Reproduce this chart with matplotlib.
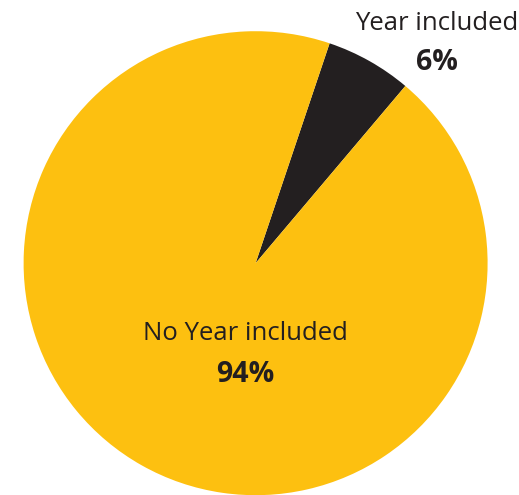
import matplotlib.pyplot as plt

labels = ['Year included', 'No Year included']
shares = [6, 94]
colors = ['#231f20', '#fdc010']

W, H = 519, 495

fig = plt.figure(figsize=(W / 100, H / 100), dpi=100)
ax = fig.add_axes([0, 0, 1, 1])

ax.pie(shares, colors=colors, startangle=71.4, counterclock=False,
       center=(255.6, H - 263.2), radius=232,
       wedgeprops=dict(linewidth=0))

# pie() resets the limits, so pin them to pixel units afterwards
ax.set_xlim(0, W)
ax.set_ylim(0, H)
ax.set_aspect('equal')
ax.axis('off')

txt = '#231f20'
font = 'Open Sans'
name_size, pct_size = 18.5, 20.5
# outside label for the small slice
ax.text(437, H - 24, labels[0], ha='center', va='center',
        fontsize=name_size, family=font, color=txt)
ax.text(437, H - 63, f'{shares[0]}%', ha='center', va='center',
        fontsize=pct_size, family=font, weight='bold', color=txt)
# label inside the large slice
ax.text(245, H - 333, labels[1], ha='center', va='center',
        fontsize=name_size, family=font, color=txt)
ax.text(245, H - 375, f'{shares[1]}%', ha='center', va='center',
        fontsize=pct_size, family=font, weight='bold', color=txt)

fig.savefig('out.png', dpi=100)
